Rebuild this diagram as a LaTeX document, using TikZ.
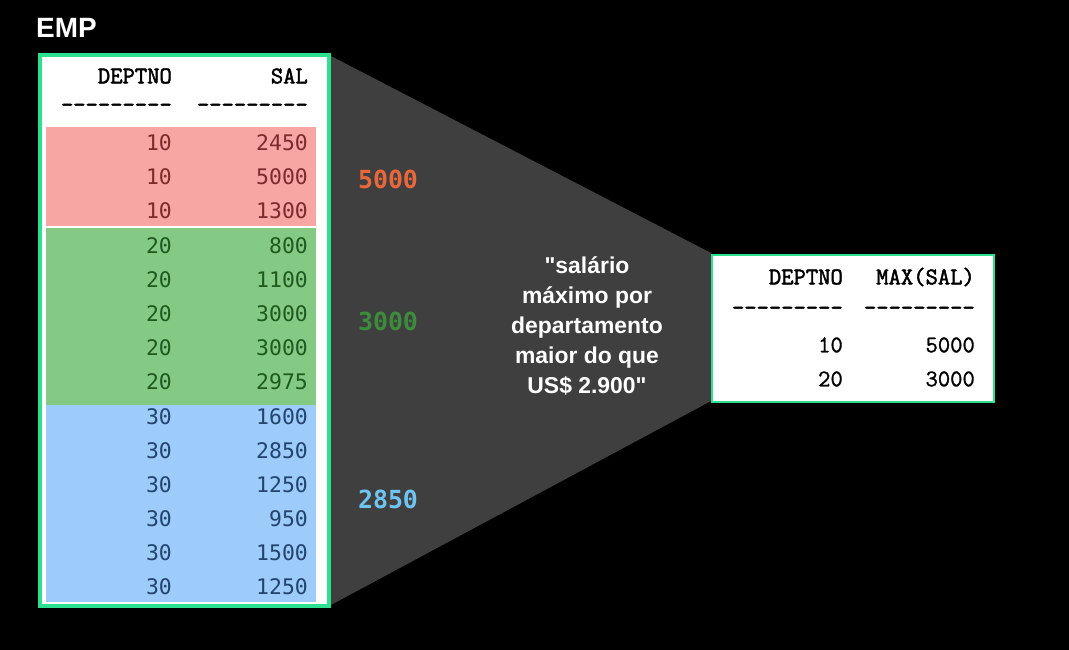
\documentclass[tikz,border=0pt]{standalone}
\usepackage{fontspec}
\setmainfont{Liberation Sans}
\newfontfamily\qfont{Liberation Sans}
\newfontfamily\djm{DejaVu Sans Mono}
\newfontfamily\cttb{Latin Modern Mono}[FakeBold=2]
\newfontfamily\cttm{Latin Modern Mono}[FakeBold=1.2]
\definecolor{bordergreen}{HTML}{2BE08F}
\definecolor{pinkbg}{HTML}{F7A6A4}
\definecolor{greenbg}{HTML}{84CA84}
\definecolor{bluebg}{HTML}{9DCBFA}
\definecolor{funnelgray}{HTML}{3F3F3F}
\definecolor{pinktx}{HTML}{7B2B2B}
\definecolor{greentx}{HTML}{1E5A1E}
\definecolor{bluetx}{HTML}{22446E}
\definecolor{labA}{HTML}{E8683C}
\definecolor{labB}{HTML}{3C8C3C}
\definecolor{labC}{HTML}{70C4F2}
\tikzset{
  cell/.style={inner sep=0pt, anchor=east, font=\djm\fontsize{21.5}{21.5}\selectfont},
  hdr/.style={inner sep=0pt, anchor=east, font=\cttb\fontsize{24}{24}\selectfont, text=black},
  rcell/.style={inner sep=0pt, anchor=east, font=\cttm\fontsize{24}{24}\selectfont, text=black},
  maxlab/.style={font=\djm\bfseries\fontsize{25}{25}\selectfont, inner sep=0pt},
}
\begin{document}
\begin{tikzpicture}[x=1bp,y=-1bp]
\useasboundingbox (0,0) rectangle (1069,650);
\fill[black] (0,0) rectangle (1069,650);
% funnel
\fill[funnelgray] (329,55) -- (711,253) -- (711,401) -- (329,606) -- cycle;
% left table
\node[draw=bordergreen, line width=4bp, fill=white, minimum width=289bp, minimum height=551bp, anchor=north west, inner sep=0pt] (emp) at (38,53) {};
\fill[pinkbg] (46,127) rectangle (316,225.5);
\fill[greenbg] (46,227.5) rectangle (316,405);
\fill[bluebg] (46,405) rectangle (316,602);
\node[inner sep=0pt, anchor=west, text=white, font=\bfseries\fontsize{28}{28}\selectfont] (title) at (36,28) {EMP};
\node[hdr] (h1) at (172,76) {DEPTNO};
\node[hdr] (h2) at (308,76) {SAL};
\node[hdr] (d1) at (172,108) {---------};
\node[hdr] (d2) at (308,108) {---------};
\foreach \y/\s [count=\i] in {143/2450,177/5000,211/1300}{
  \node[cell, text=pinktx] (pa\i) at (172,\y) {10};
  \node[cell, text=pinktx] (pb\i) at (308,\y) {\s};
}
\foreach \y/\s [count=\i] in {246/800,280/1100,314/3000,348/3000,382/2975}{
  \node[cell, text=greentx] (ga\i) at (172,\y) {20};
  \node[cell, text=greentx] (gb\i) at (308,\y) {\s};
}
\foreach \y/\s [count=\i] in {417/1600,451/2850,485/1250,519/950,553/1500,587/1250}{
  \node[cell, text=bluetx] (ba\i) at (172,\y) {30};
  \node[cell, text=bluetx] (bb\i) at (308,\y) {\s};
}
% max labels
\node[maxlab, text=labA] (m10) at (388,179) {5000};
\node[maxlab, text=labB] (m20) at (388,321) {3000};
\node[maxlab, text=labC] (m30) at (388,499) {2850};
% middle text
\node[align=center, text=white, font=\qfont\bfseries\fontsize{23}{30}\selectfont] (q) at (587,326)
  {"salário\\máximo por\\departamento\\maior do que\\US\$ 2.900"};
% right table
\node[draw=bordergreen, line width=2bp, fill=white, minimum width=282bp, minimum height=147bp, anchor=north west, inner sep=0pt] (res) at (711,254) {};
\node[hdr] (rh1) at (843,277) {DEPTNO};
\node[hdr] (rh2) at (975,277) {MAX(SAL)};
\node[hdr] (rd1) at (843,311) {---------};
\node[hdr] (rd2) at (975,311) {---------};
\node[rcell] (r1a) at (843,345) {10};
\node[rcell] (r1b) at (975,345) {5000};
\node[rcell] (r2a) at (843,379) {20};
\node[rcell] (r2b) at (975,379) {3000};
\end{tikzpicture}
\end{document}
